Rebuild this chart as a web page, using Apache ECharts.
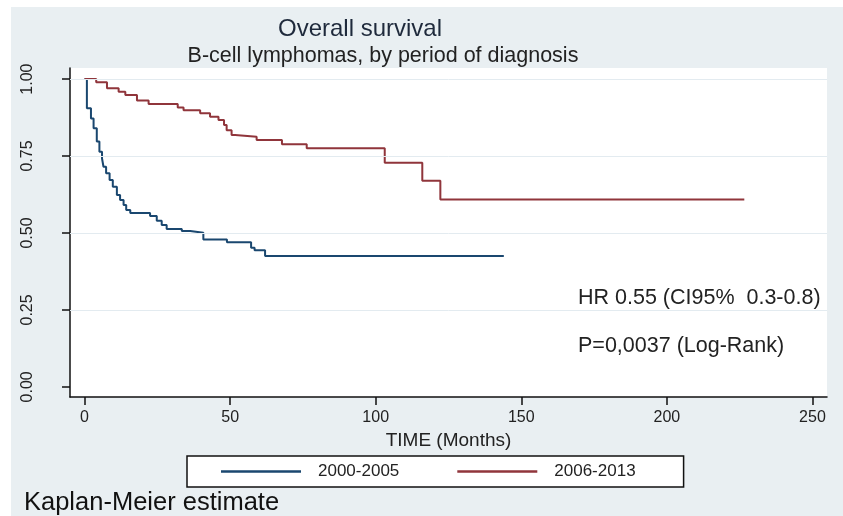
<!DOCTYPE html>
<html>
<head>
<meta charset="utf-8">
<script src="https://cdn.jsdelivr.net/npm/echarts@6/dist/echarts.min.js"></script>
<style>html,body{margin:0;padding:0;background:#fff}#c{width:843px;height:516px}</style>
</head>
<body>
<div id="c"></div>
<script>
// ---- data ----
const seriesNames = ['2000-2005', '2006-2013'];
const blueTime = [0, 0.8, 2.2, 3.1, 4.2, 5.1, 6.0, 6.5, 7.4, 8.6, 9.7, 11.1, 12.2, 13.4, 14.3, 15.7, 22.5, 24.8, 26.5, 28.2, 33.4, 36.3, 40.8, 48.9, 57.2, 58.4, 62.0, 144.0];
const blueSurv = [1.0, 0.905, 0.872, 0.840, 0.797, 0.764, 0.742, 0.715, 0.694, 0.672, 0.650, 0.623, 0.607, 0.591, 0.575, 0.565, 0.555, 0.540, 0.526, 0.513, 0.506, 0.501, 0.479, 0.470, 0.452, 0.444, 0.425, 0.425];
const redTime = [0, 4.0, 7.7, 11.7, 14.0, 18.0, 22.0, 32.0, 34.0, 39.7, 43.1, 46.0, 47.9, 48.8, 50.5, 51.7, 59.1, 67.8, 76.3, 103.1, 116.0, 122.2, 226.6];
const redSurv = [1.0, 0.990, 0.970, 0.959, 0.948, 0.930, 0.919, 0.908, 0.899, 0.889, 0.878, 0.867, 0.851, 0.834, 0.818, 0.813, 0.802, 0.788, 0.775, 0.728, 0.670, 0.609, 0.609];
const xTicks = [0, 50, 100, 150, 200, 250];
const yTicks = [0, 0.25, 0.5, 0.75, 1.0];
const yGrid = [0.25, 0.5, 0.75, 1.0];

const pairs = (t, s) => t.map((v, i) => [v, s[i]]);
const FONT = 'Liberation Sans, Arial, sans-serif';

const chart = echarts.init(document.getElementById('c'), null, {renderer: 'canvas'});
chart.setOption({
  backgroundColor: '#e9eff2',
  animation: false,
  grid: {left: 70, top: 68, right: 16, bottom: 119, show: true, backgroundColor: '#ffffff', borderWidth: 0},
  xAxis: {
    type: 'value', min: -5, max: 255,
    name: 'TIME (Months)', nameLocation: 'middle', nameGap: 33,
    nameTextStyle: {fontFamily: FONT, fontSize: 19, color: '#222'},
    axisLine: {show: true, onZero: false, lineStyle: {color: '#111', width: 1.5}},
    axisTick: {show: true, length: 8, customValues: xTicks, lineStyle: {color: '#111', width: 1.5}},
    axisLabel: {customValues: xTicks, margin: 13, fontFamily: FONT, fontSize: 16, color: '#222'},
    splitLine: {show: false}
  },
  yAxis: {
    type: 'value', min: -0.033, max: 1.036,
    axisLine: {show: true, onZero: false, lineStyle: {color: '#111', width: 1.5}},
    axisTick: {show: true, length: 8, customValues: yTicks, lineStyle: {color: '#111', width: 1.5}},
    axisLabel: {customValues: yTicks, rotate: 90, margin: 34, fontFamily: FONT, fontSize: 16, color: '#222',
      formatter: v => v.toFixed(2)},
    splitLine: {show: false}
  },
  legend: {
    data: seriesNames, left: 187, top: 456, orient: 'horizontal',
    icon: 'rect', itemWidth: 80, itemHeight: 2.5, itemGap: 58,
    padding: [7, 48, 7, 34],
    backgroundColor: '#ffffff', borderColor: '#111', borderWidth: 1.5,
    textStyle: {fontFamily: FONT, fontSize: 17, color: '#222', padding: [0, 0, 0, 12]}
  },
  graphic: [
    {type: 'rect', shape: {x: 0, y: 0, width: 843, height: 7}, style: {fill: '#fff'}, silent: true},
    {type: 'rect', shape: {x: 0, y: 0, width: 11, height: 516}, style: {fill: '#fff'}, silent: true},
    {type: 'text', x: 360, y: 29, style: {text: 'Overall survival', fontFamily: FONT, fontSize: 24, fill: '#1f2a3c', textAlign: 'center', textVerticalAlign: 'middle'}},
    {type: 'text', x: 383, y: 56, style: {text: 'B-cell lymphomas, by period of diagnosis', fontFamily: FONT, fontSize: 21.5, fill: '#222', textAlign: 'center', textVerticalAlign: 'middle'}},
    {type: 'text', x: 578, y: 298, style: {text: 'HR 0.55 (CI95%  0.3-0.8)', fontFamily: FONT, fontSize: 21.5, fill: '#222', textAlign: 'left', textVerticalAlign: 'middle'}},
    {type: 'text', x: 578, y: 346, style: {text: 'P=0,0037 (Log-Rank)', fontFamily: FONT, fontSize: 21.5, fill: '#222', textAlign: 'left', textVerticalAlign: 'middle'}},
    {type: 'text', x: 24, y: 503, style: {text: 'Kaplan-Meier estimate', fontFamily: FONT, fontSize: 25.5, fill: '#111', textAlign: 'left', textVerticalAlign: 'middle'}}
  ],
  series: [
    {
      name: seriesNames[0], type: 'line', step: 'end', showSymbol: false, symbol: 'none',
      data: pairs(blueTime, blueSurv), color: '#1a476f',
      lineStyle: {width: 2, color: '#1a476f'},
      markLine: {silent: true, symbol: 'none', label: {show: false},
        lineStyle: {color: '#e3ebf0', width: 1, type: 'solid'},
        data: yGrid.map(v => ({yAxis: v}))},
      z: 3
    },
    {
      name: seriesNames[1], type: 'line', step: 'end', showSymbol: false, symbol: 'none',
      data: pairs(redTime, redSurv), color: '#90353b',
      lineStyle: {width: 2, color: '#90353b'},
      z: 4
    }
  ]
});
</script>
</body>
</html>
